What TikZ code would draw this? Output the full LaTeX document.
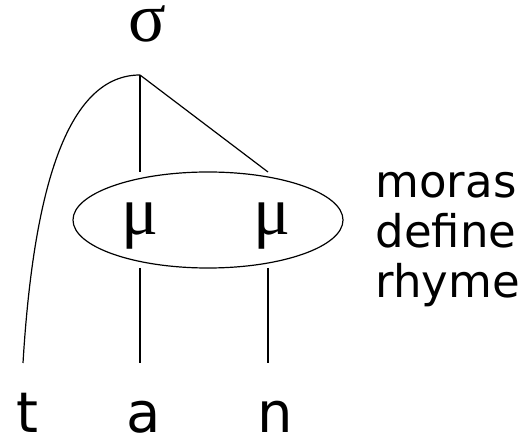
\documentclass[tikz,border=0pt]{standalone}
\usepackage{fontspec}
\setmainfont{DejaVu Sans}
\newfontfamily\greekfont{Liberation Serif}
\usepackage{tikz}
\usetikzlibrary{shapes.geometric}

\begin{document}
\begin{tikzpicture}[x=1pt, y=-1pt, line width=1.2pt,
    syl/.style={inner sep=0pt, outer ysep=33pt, anchor=base, text height=30pt, text depth=0pt, font=\greekfont\fontsize{70}{70}\selectfont},
    mora/.style={inner sep=0pt, outer ysep=33pt, anchor=base, text height=30pt, text depth=0pt, font=\greekfont\fontsize{69}{69}\selectfont},
    seg/.style={inner sep=0pt, outer ysep=27pt, anchor=base, text height=43pt, text depth=0pt, font=\fontsize{56}{56}\selectfont},
    note/.style={inner sep=0pt, anchor=north west, align=left, font=\fontsize{45}{50}\selectfont}]

    \useasboundingbox (0,0) rectangle (523,438);

    \node[syl] (sigma) at (147,42) {σ};
    \node[mora] (mu1) at (140,235) {μ};
    \node[mora] (mu2) at (268,235) {\kern8ptμ};
    \node[seg] (t) at (27,433) {t};
    \node[seg] (a) at (144,433) {a};
    \node[seg] (n) at (275,433) {n};
    \node[draw, ellipse, inner sep=0pt, minimum width=270pt, minimum height=96pt] (rhyme) at (208,220) {};
    \node[note] (label) at (375,172) {moras\\define\\rhyme};

    \coordinate (root) at (sigma.south -| mu1.north);

    \draw (root) -- (mu1.north);
    \draw (root) -- (mu2.north);
    \draw (root) .. controls (70,75) and (34,180) .. ([xshift=-4pt]t.north);
    \draw (mu1.south) -- (mu1.south |- a.north);
    \draw (mu2.south) -- (mu2.south |- n.north);
\end{tikzpicture}
\end{document}
